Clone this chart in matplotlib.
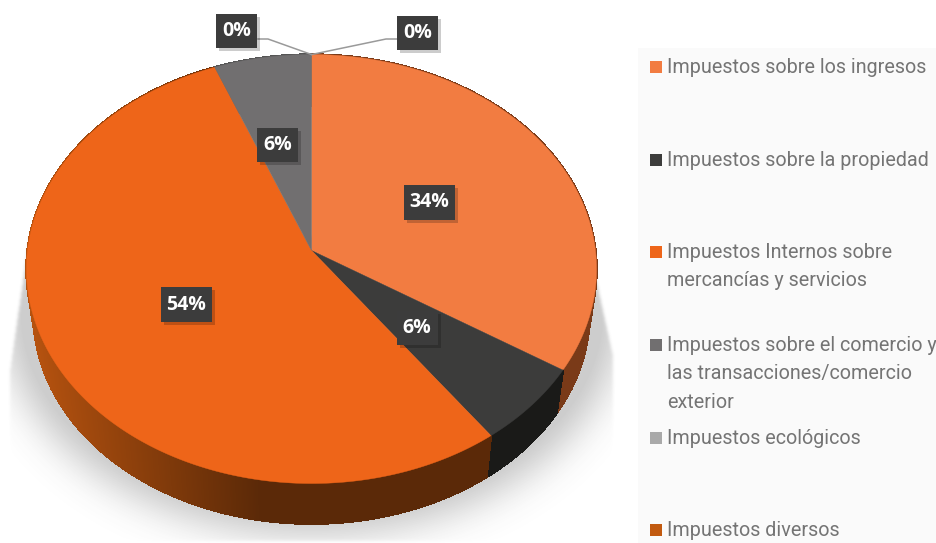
import numpy as np
import matplotlib
matplotlib.use('Agg')
import matplotlib.pyplot as plt
from matplotlib.patches import Polygon, Rectangle

categorias = ['Impuestos sobre los ingresos', 'Impuestos sobre la propiedad',
              'Impuestos Internos sobre\nmercancías y servicios',
              'Impuestos sobre el comercio y\nlas transacciones/comercio\nexterior',
              'Impuestos ecológicos', 'Impuestos diversos']
valores = [34, 6, 54, 6, 0, 0]
colores = ['#F27C41', '#3C3C3B', '#EE6519', '#716F70', '#A9A9A9', '#C25A10']
colores_lado = ['#7A3A18', '#1A1A18', '#B5520F', '#555555', '#808080', '#80400C']
legend_y = [66, 159, 251, 344, 437, 529]
# ajuste fino de cada etiqueta de porcentaje (pixeles)
ajuste_etiqueta = [(-4, 2), (-1, 2), (2, 2), (-8, -5)]

W, H = 937, 543
# geometria del pie (pixeles) con perspectiva
cx, cy = 311.5, 250.5
a, b, k = 212.9, 284.0, 0.0863
prof, esc = 46, 0.975


def proyectar(ang, r=1.0, escala=1.0, dy=0.0):
    """Angulo en grados desde arriba, sentido horario -> pixel."""
    t = np.radians(ang)
    u, v = r * np.sin(t), r * np.cos(t)
    d = 1 + k * v
    return cx + escala * b * u / d, cy + dy - escala * a * v / d


def blur(img, s):
    n = int(3 * s)
    g = np.exp(-0.5 * (np.arange(-n, n + 1) / s) ** 2)
    g /= g.sum()
    img = np.apply_along_axis(lambda f: np.convolve(f, g, mode='same'), 0, img)
    return np.apply_along_axis(lambda f: np.convolve(f, g, mode='same'), 1, img)


fig = plt.figure(figsize=(W / 100, H / 100), dpi=100)
ax = fig.add_axes([0, 0, 1, 1])
ax.set_xlim(0, W)
ax.set_ylim(H, 0)
ax.axis('off')

# sombra difusa bajo el pie
yy, xx = np.mgrid[0:H, 0:W]
mask = (((xx - cx) / 308.0) ** 2 + ((yy - 312) / 222.0) ** 2 < 1).astype(float)
sombra = np.clip(blur(mask, 20) * 1.25, 0, 1)
borde_izq = np.maximum(27 - (yy - 250) * 17 / 117.0, 9)
borde_der = np.minimum(597 + (yy - 285) * 16 / 72.0, 613)
corte = ((xx > borde_izq) & (xx < borde_der) & (yy > 235) & (yy < 541)).astype(float)
sombra *= blur(corte, 1.5)
rgba = np.zeros((H, W, 4))
rgba[..., :3] = 0.3
rgba[..., 3] = sombra * 0.28
ax.imshow(rgba, extent=(0, W, H, 0), aspect='auto', zorder=1, interpolation='bilinear')
ax.set_xlim(0, W)
ax.set_ylim(H, 0)

# panel de la leyenda
ax.add_patch(Rectangle((638, 48), W - 638, H - 48, fc='#FAFAFA', ec='none', zorder=1))

limites = np.cumsum([0] + valores) / sum(valores) * 360

# lateral del pie con degradado horizontal
for i, val in enumerate(valores):
    if val == 0:
        continue
    angs = np.linspace(limites[i], limites[i + 1], int(val * 14) + 2)
    for a0, a1 in zip(angs[:-1], angs[1:]):
        x0, y0 = proyectar(a0)
        x1, y1 = proyectar(a1)
        x2, y2 = proyectar(a1, escala=esc, dy=prof)
        x3, y3 = proyectar(a0, escala=esc, dy=prof)
        f = np.clip((x0 - 30) / 230.0, 0, 1)
        base = np.array(matplotlib.colors.to_rgb(colores_lado[i]))
        col = base * (1.0 - 0.5 * f) if i == 2 else base
        ax.add_patch(Polygon([(x0, y0), (x1, y1), (x2, y2), (x3, y3)], fc=col, ec=col,
                             lw=1.0, antialiased=False, zorder=2))

# cara superior
for i, val in enumerate(valores):
    if val == 0:
        continue
    angs = np.linspace(limites[i], limites[i + 1], int(val * 6) + 2)
    xs, ys = proyectar(angs)
    puntos = [(cx, cy)] + list(zip(xs, ys))
    ax.add_patch(Polygon(puntos, fc=colores[i], ec=colores[i], lw=0.3, zorder=3))


def etiqueta(x, y, txt):
    w, h = (41, 34) if len(txt) == 2 else (51, 35)
    ax.add_patch(Rectangle((x - w / 2 + 3, y - h / 2 + 3), w, h, fc='#000000', alpha=0.2, ec='none', zorder=6))
    ax.add_patch(Rectangle((x - w / 2, y - h / 2), w, h, fc='#3C3C3C', ec='none', zorder=7))
    ax.text(x, y, txt, color='white', fontsize=14, fontweight='bold', family='Open Sans',
            ha='center', va='center', zorder=8)


for i, val in enumerate(valores):
    if val == 0:
        continue
    medio = (limites[i] + limites[i + 1]) / 2
    x, y = proyectar(medio, r=0.5)
    etiqueta(float(x) + ajuste_etiqueta[i][0], float(y) + ajuste_etiqueta[i][1], f'{val}%')

# las dos categorias con 0% llevan linea guia
tope_x, tope_y = proyectar(0)
ax.plot([258, 268, tope_x], [39, 39, tope_y], color='#9A9A9A', lw=1.1, zorder=5)
ax.plot([397, 386, tope_x], [39, 39, tope_y], color='#9A9A9A', lw=1.1, zorder=5)
etiqueta(237, 31, f'{valores[4]}%')
etiqueta(418, 33, f'{valores[5]}%')

# leyenda
for nombre, col, y in zip(categorias, colores, legend_y):
    ax.add_patch(Rectangle((650, y - 5), 12, 12, fc=col, ec='none', zorder=4))
    ax.text(667, y - 8, nombre, color='#747474', fontsize=14.2, family='Roboto',
            ha='left', va='top', linespacing=1.62, zorder=4)

fig.savefig('out.png', dpi=100)
